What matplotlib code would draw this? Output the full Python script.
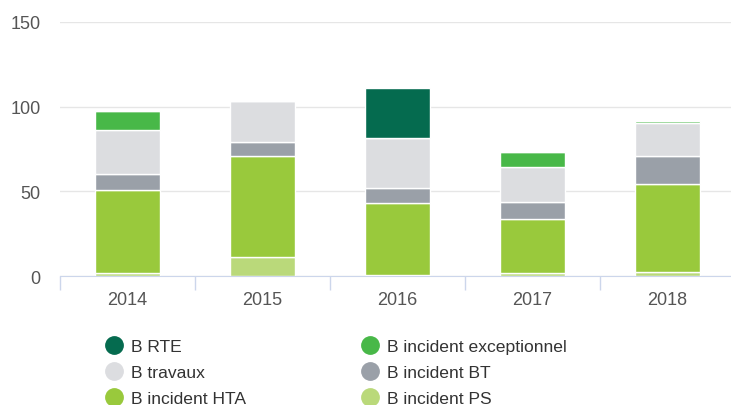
import numpy as np
import matplotlib
matplotlib.use("Agg")
import matplotlib.pyplot as plt
from matplotlib.lines import Line2D

plt.rcParams['font.family'] = ['Liberation Sans', 'DejaVu Sans']

years = ['2014', '2015', '2016', '2017', '2018']

# stacked from the bottom up
b_ps = [2.0, 11.0, 0.5, 1.8, 2.2]
b_hta = [49.0, 60.0, 42.5, 32.0, 52.0]
b_bt = [9.0, 8.0, 9.0, 10.0, 16.5]
b_travaux = [26.0, 24.5, 29.5, 20.5, 19.5]
b_exc = [11.5, 0.0, 0.0, 9.0, 1.2]
b_rte = [0.0, 0.0, 29.8, 0.0, 0.0]

series = [
    ('B incident PS', b_ps, '#bad97a'),
    ('B incident HTA', b_hta, '#99c93c'),
    ('B incident BT', b_bt, '#9aa0a8'),
    ('B travaux', b_travaux, '#dcdde0'),
    ('B incident exceptionnel', b_exc, '#48b848'),
    ('B RTE', b_rte, '#056b4f'),
]

W, H = 731, 406
fig = plt.figure(figsize=(W / 100, H / 100), dpi=100)
ax = fig.add_axes([60 / W, (H - 277) / H, 675 / W, 254 / H])

x = np.arange(len(years))
bottom = np.zeros(len(years))
for name, vals, col in series:
    vals = np.array(vals)
    ax.bar(x, vals, width=0.48, bottom=bottom, color=col, edgecolor='white',
           linewidth=1, zorder=3)
    bottom += vals

ax.set_xlim(-0.5, 4.5)
ax.set_ylim(0, 150)
ax.set_yticks([0, 50, 100, 150])
ax.yaxis.grid(True, color='#e6e6e6', linewidth=1)
for s in ['top', 'right', 'left']:
    ax.spines[s].set_visible(False)
ax.spines['bottom'].set_color('#ccd6eb')
ax.spines['bottom'].set_zorder(4)

ax.set_xticks(x)
ax.set_xticklabels(years)
ax.set_xticks(np.arange(-0.5, 5, 1), minor=True)
ax.tick_params(axis='x', which='major', length=0, pad=11, labelsize=13,
               labelcolor='#555555')
ax.tick_params(axis='x', which='minor', length=10, color='#ccd6eb', width=1)
ax.tick_params(axis='y', length=0, pad=14, labelsize=13, labelcolor='#555555')

# legend: column 1 then column 2
order = ['B RTE', 'B travaux', 'B incident HTA',
         'B incident exceptionnel', 'B incident BT', 'B incident PS']
colors = {name: col for name, _, col in series}
handles = [Line2D([], [], marker='o', linestyle='none', markersize=12.5,
                  markerfacecolor=colors[n], markeredgecolor=colors[n])
           for n in order]
fig.legend(handles, order, ncol=2, loc='upper left',
           bbox_to_anchor=(105 / W, (H - 340) / H), frameon=False,
           fontsize=12.6, labelcolor='#333333', handletextpad=0.5,
           handlelength=1.0, columnspacing=6.55, labelspacing=0.62,
           borderaxespad=0, borderpad=0)

fig.savefig('out.png', dpi=100)
